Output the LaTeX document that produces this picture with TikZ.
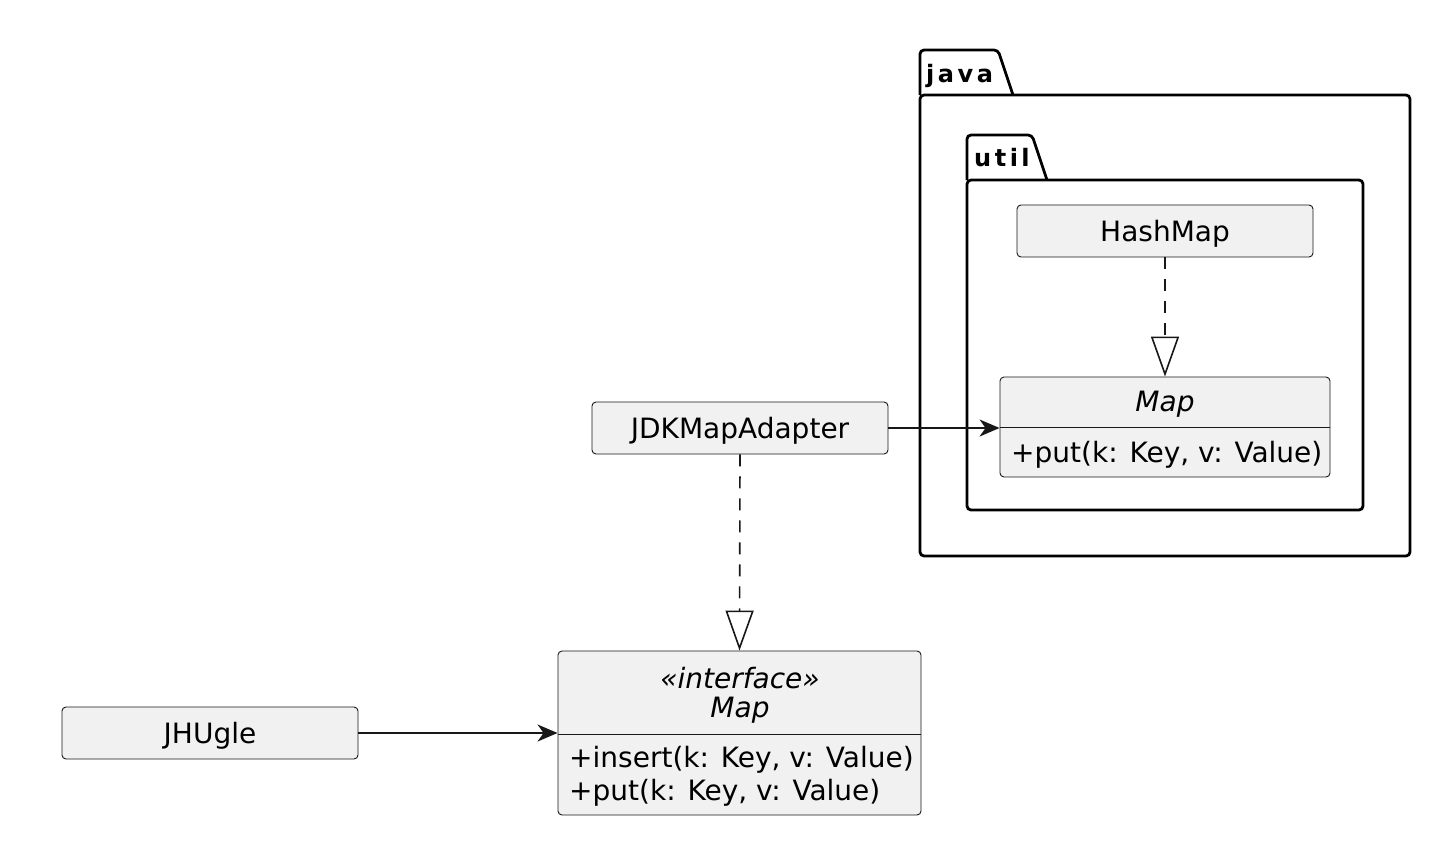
\documentclass[tikz,border=0pt]{standalone}
\usepackage{fontspec}
\setmainfont{DejaVu Sans}
\usetikzlibrary{arrows.meta}
\definecolor{boxfill}{HTML}{F1F1F1}
\definecolor{boxline}{HTML}{181818}
\tikzset{
  cls/.style={draw=boxline, fill=boxfill, line width=0.9pt, rounded corners=4pt,
    inner sep=0pt, font=\fontsize{28}{33}\selectfont},
  txt/.style={inner sep=0pt, font=\fontsize{28}{33}\selectfont, text=black},
  itxt/.style={txt, font=\fontsize{28}{33}\selectfont\itshape},
  pkg/.style={draw=black, line width=2.8pt, rounded corners=4pt},
  pkgtxt/.style={inner sep=0pt, anchor=base west, font=\fontsize{24}{29}\selectfont\bfseries},
  assoc/.style={draw=boxline, line width=1.6pt, -{Stealth[length=20pt, width=17pt, inset=6pt]}},
  realize/.style={draw=boxline, line width=1.6pt, dash pattern=on 12pt off 10pt,
    -{Triangle[open, length=40pt, width=28pt, fill=white]}},
  sep/.style={draw=boxline, line width=0.9pt}
}
\begin{document}
\begin{tikzpicture}[x=1pt, y=-1pt]
\useasboundingbox (0,0) rectangle (1450,846);
% java package
\draw[pkg] (920,95) -- (920,50) -- (998,50) -- (1013,95);
\draw[pkg] (920,95) rectangle (1410,556);
\node[pkgtxt] (javalbl) at (926,82) {j\kern3.5pt a\kern3.5pt v\kern3.5pt a};
% util package
\draw[pkg] (967,180) -- (967,135) -- (1032,135) -- (1047,180);
\draw[pkg] (967,180) rectangle (1363,510);
\node[pkgtxt] (utillbl) at (974,166) {u\kern3.5pt t\kern3.5pt i\kern3.5pt l};
% HashMap
\node[cls, minimum width=296pt, minimum height=52pt, text depth=1pt] (hash) at (1165,231) {HashMap};
% inner Map
\node[cls, minimum width=330pt, minimum height=100pt] (umap) at (1165,427) {};
\draw[sep] ([yshift=-51pt]umap.north west) -- ([yshift=-51pt]umap.north east);
\node[itxt] (umapname) at (1165,404) {Map};
\node[txt, anchor=west] (umapput) at (1011,455) {+put(k: Key, v: Value)};
% JDKMapAdapter
\node[cls, minimum width=296pt, minimum height=52pt, text depth=1pt] (adapter) at (740,428) {JDKMapAdapter};
% interface Map
\node[cls, minimum width=363pt, minimum height=164pt] (imap) at (739.5,733) {};
\draw[sep] ([yshift=-84pt]imap.north west) -- ([yshift=-84pt]imap.north east);
\node[itxt] (istereo) at (740,678) {«interface»};
\node[itxt] (iname) at (740,710) {Map};
\node[txt, anchor=west] (iinsert) at (569,760) {+insert(k: Key, v: Value)};
\node[txt, anchor=west] (iput) at (569,793) {+put(k: Key, v: Value)};
% JHUgle
\node[cls, minimum width=296pt, minimum height=52pt, text depth=1pt] (jhugle) at (210,733) {JHUgle};
% connectors
\draw[realize] (hash.south) -- (umap.north);
\draw[realize] (adapter.south) -- (imap.north);
\draw[assoc] (adapter.east) -- (umap.west |- adapter.east);
\draw[assoc] (jhugle.east) -- (imap.west);
\end{tikzpicture}
\end{document}
